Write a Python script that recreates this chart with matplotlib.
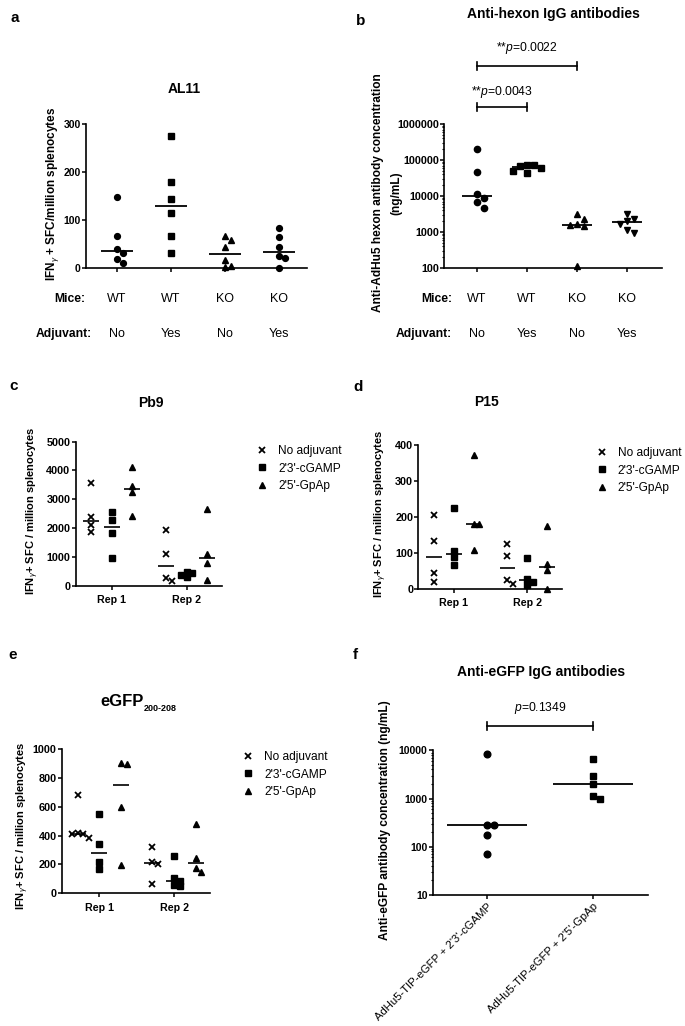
import numpy as np
import matplotlib
matplotlib.use("Agg")
import matplotlib.pyplot as plt
from matplotlib.lines import Line2D
from matplotlib.ticker import LogLocator, NullFormatter
from matplotlib.transforms import blended_transform_factory as blend

# ---------------- data ----------------
a_title = "AL11"
a_mice = ["WT", "WT", "KO", "KO"]
a_adjuvant = ["No", "Yes", "No", "Yes"]
a_wt_no = [148, 67, 40, 31, 19, 11]
a_wt_yes = [276, 180, 144, 115, 67, 31]
a_ko_no = [67, 59, 44, 16, 5, 2]
a_ko_yes = [84, 64, 44, 24, 20, 0]
a_yticks = [0, 100, 200, 300]

b_title = "Anti-hexon IgG antibodies"
b_mice = ["WT", "WT", "KO", "KO"]
b_adjuvant = ["No", "Yes", "No", "Yes"]
b_wt_no = [202000, 47000, 11400, 9000, 6800, 4700]
b_wt_yes = [72600, 71100, 68100, 58700, 50600, 42600]
b_ko_no = [3100, 2300, 1630, 1530, 1470, 114]
b_ko_yes = [3160, 2300, 2070, 1630, 1110, 920]
b_yticks = [100, 1000, 10000, 100000, 1000000]
b_comparisons = [(1, 2), (1, 3)]
b_pvalues = ["0.0043", "0.0022"]
b_ylabel = ["Anti-AdHu5 hexon antibody concentration", "(ng/mL)"]

reps = ["Rep 1", "Rep 2"]
legend_labels = ["No adjuvant", "2'3'-cGAMP", "2'5'-GpAp"]

c_title = "Pb9"
c_no_adj = [[3570, 2390, 2100, 1850], [1930, 1090, 245, 160]]
c_cgamp = [[2550, 2270, 1830, 965], [480, 420, 350, 280]]
c_gpap = [[4130, 3460, 3260, 2430], [2645, 1090, 790, 190]]
c_yticks = [0, 1000, 2000, 3000, 4000, 5000]

d_title = "P15"
d_no_adj = [[204, 133, 45, 20], [125, 91, 23, 13]]
d_cgamp = [[225, 106, 89, 65], [86, 28, 18, 9]]
d_gpap = [[371, 179, 179, 108], [175, 69, 52, 0]]
d_yticks = [0, 100, 200, 300, 400]

e_title = "eGFP"
e_title_sub = "200-208"
e_no_adj = [[680, 415, 412, 410, 380], [322, 215, 200, 63]]
e_cgamp = [[550, 340, 215, 165], [258, 107, 85, 53, 49]]
e_gpap = [[898, 907, 601, 193], [478, 244, 174, 144]]
e_yticks = [0, 200, 400, 600, 800, 1000]

f_title = "Anti-eGFP IgG antibodies"
f_groups = ["AdHu5-TIP-eGFP + 2'3'-cGAMP", "AdHu5-TIP-eGFP + 2'5'-GpAp"]
f_cgamp = [8260, 285, 280, 178, 71]
f_gpap = [6500, 2940, 2000, 1130, 965]
f_yticks = [10, 100, 1000, 10000]
f_pvalue = "0.1349"

# ---------------- style ----------------
plt.rcParams.update({
    "font.family": ["Liberation Sans", "DejaVu Sans"],
    "mathtext.fontset": "custom",
    "mathtext.rm": "Liberation Sans",
    "mathtext.it": "Liberation Sans:italic",
    "mathtext.bf": "Liberation Sans:bold",
    "axes.linewidth": 1.2,
})

W, H = 685, 1026
fig = plt.figure(figsize=(W / 100, H / 100), dpi=100)
fig.patch.set_facecolor("white")


def fx(px):
    return px / W


def fy(py):
    return 1 - py / H


def add_ax(l, t, r, b):
    ax = fig.add_axes([fx(l), fy(b), (r - l) / W, (b - t) / H])
    ax.patch.set_alpha(0)
    for s in ["top", "right"]:
        ax.spines[s].set_visible(False)
    ax.tick_params(direction="out", length=2.9, width=1.1, pad=0.8)
    return ax


def set_yticks(ax, ticks, size):
    ax.set_yticks(ticks)
    ax.set_yticklabels([f"{t:d}" for t in ticks], fontweight="bold", fontsize=size)


def swarm(ax, xc, vals, d):
    vals = np.asarray(vals, float)
    disp = ax.transData.transform(np.column_stack([np.full(len(vals), xc), vals]))
    p0 = ax.transData.transform((xc, vals[0]))
    p1 = ax.transData.transform((xc + 1, vals[0]))
    ppu = p1[0] - p0[0]
    cands = [0.0]
    for m in range(1, 12):
        cands += [m * d, -m * d]
    placed = []
    offs = np.zeros(len(vals))
    for i in np.argsort(-vals, kind="stable"):
        y = disp[i, 1]
        for c in cands:
            if all((c - px) ** 2 + (y - py) ** 2 >= (0.92 * d) ** 2 for px, py in placed):
                break
        placed.append((c, y))
        offs[i] = c
    return xc + offs / ppu


def bracket(ax, x1, x2, ypx, text, text_base):
    tr = blend(ax.transData, fig.transFigure)
    y = fy(ypx)
    cap = 4 / H
    kw = dict(transform=tr, color="k", lw=1.2, clip_on=False)
    ax.plot([x1, x2], [y, y], **kw)
    ax.plot([x1, x1], [y - cap, y + cap], **kw)
    ax.plot([x2, x2], [y - cap, y + cap], **kw)
    ax.text((x1 + x2) / 2, fy(text_base), text, transform=tr, ha="center",
            va="baseline", fontsize=8.7)


def panel_label(txt, x, ybase):
    fig.text(fx(x), fy(ybase), txt, ha="center", va="baseline", fontsize=11, fontweight="bold")


# ---------------- panel a ----------------
axA = add_ax(86, 124, 307, 268)
axA.set_xlim(0.426, 4.52)
axA.set_ylim(0, 300)
set_yticks(axA, a_yticks, 7.5)
axA.set_xticks(range(1, 5))
axA.set_xticklabels([])
for i, (v, m, s) in enumerate(zip([a_wt_no, a_wt_yes, a_ko_no, a_ko_yes],
                                  ["o", "s", "^", "o"], [4.2, 4.0, 4.6, 4.2])):
    xs = swarm(axA, i + 1, v, 6.0)
    axA.plot(xs, v, ls="none", marker=m, ms=s, color="k", clip_on=False, zorder=3)
    axA.hlines(np.median(v), i + 1 - 0.3, i + 1 + 0.3, color="k", lw=1.3, zorder=2)
trA = blend(axA.transData, fig.transFigure)
for i, (m, adj) in enumerate(zip(a_mice, a_adjuvant)):
    axA.text(i + 1, fy(302.5), m, transform=trA, ha="center", va="baseline", fontsize=9)
    axA.text(i + 1, fy(337), adj, transform=trA, ha="center", va="baseline", fontsize=9)
fig.text(fx(85.5), fy(302.5), "Mice:", ha="right", va="baseline", fontsize=8.7, fontweight="bold")
fig.text(fx(91.5), fy(337), "Adjuvant:", ha="right", va="baseline", fontsize=8.7, fontweight="bold")
fig.text(fx(184), fy(93), a_title, ha="center", va="baseline", fontsize=10, fontweight="bold")
fig.text(fx(53), fy(193.5), r"IFN$_{\gamma}$ + SFC/million splenocytes", rotation=90,
         ha="center", va="center", fontsize=8.5, fontweight="bold")
panel_label("a", 15, 21.7)

# ---------------- panel b ----------------
axB = add_ax(444, 124, 662, 268)
axB.set_yscale("log")
axB.set_xlim(0.34, 4.7)
axB.set_ylim(100, 1000000)
set_yticks(axB, b_yticks, 7.8)
axB.yaxis.set_minor_locator(LogLocator(base=10, subs=np.arange(2, 10)))
axB.yaxis.set_minor_formatter(NullFormatter())
axB.tick_params(which="minor", length=1.6, width=0.8)
axB.set_xticks(range(1, 5))
axB.set_xticklabels([])
for i, (v, m, s) in enumerate(zip([b_wt_no, b_wt_yes, b_ko_no, b_ko_yes],
                                  ["o", "s", "^", "v"], [4.5, 4.4, 4.8, 4.8])):
    xs = swarm(axB, i + 1, v, 7.0)
    axB.plot(xs, v, ls="none", marker=m, ms=s, color="k", clip_on=False, zorder=3)
    axB.hlines(np.median(v), i + 1 - 0.3, i + 1 + 0.3, color="k", lw=1.3, zorder=2)
trB = blend(axB.transData, fig.transFigure)
for i, (m, adj) in enumerate(zip(b_mice, b_adjuvant)):
    axB.text(i + 1, fy(301.7), m, transform=trB, ha="center", va="baseline", fontsize=9)
    axB.text(i + 1, fy(337), adj, transform=trB, ha="center", va="baseline", fontsize=9)
fig.text(fx(452), fy(301.7), "Mice:", ha="right", va="baseline", fontsize=8.7, fontweight="bold")
fig.text(fx(452), fy(337), "Adjuvant:", ha="right", va="baseline", fontsize=8.7, fontweight="bold")
for (i, j), p, yb, yt in zip(b_comparisons, b_pvalues, [107, 66], [95, 50.7]):
    bracket(axB, i, j, yb, r"**$\mathit{p}$=" + p, yt)
fig.text(fx(553), fy(18), b_title, ha="center", va="baseline", fontsize=10, fontweight="bold")
fig.text(fx(378), fy(193), b_ylabel[0], rotation=90,
         ha="center", va="center", fontsize=8.6, fontweight="bold")
fig.text(fx(396), fy(193), b_ylabel[1], rotation=90,
         ha="center", va="center", fontsize=8.6, fontweight="bold")
panel_label("b", 361, 25)


# ---------------- panels c, d, e ----------------
def rep_panel(box, xlim, series, ylim, yticks, offs, leg_left, leg_top):
    ax = add_ax(*box)
    ax.set_xlim(*xlim)
    ax.set_ylim(*ylim)
    set_yticks(ax, yticks, 7.8)
    markers = ["x", "s", "^"]
    sizes = [5.0, 3.9, 4.5]
    mews = [1.3, 1.0, 1.0]
    for g, (vals_by_rep, m, s, mw) in enumerate(zip(series, markers, sizes, mews)):
        for r, vals in enumerate(vals_by_rep):
            xc = r + 1 + (g - 1) * offs
            xs = swarm(ax, xc, vals, 5.5)
            ax.plot(xs, vals, ls="none", marker=m, ms=s, mew=mw, color="k",
                    clip_on=False, zorder=3)
            ax.hlines(np.median(vals), xc - 0.107, xc + 0.107, color="k", lw=1.2, zorder=2)
    ax.set_xticks([1, 2])
    ax.set_xticklabels(reps, fontweight="bold", fontsize=7.7)
    ax.tick_params(axis="x", pad=4)
    handles = [Line2D([], [], ls="none", marker=m, ms=s, mew=mw, color="k")
               for m, s, mw in zip(markers, sizes, mews)]
    ax.legend(handles, legend_labels, loc="upper left",
              bbox_to_anchor=(fx(leg_left), fy(leg_top)), bbox_transform=fig.transFigure,
              frameon=False, borderpad=0, borderaxespad=0, handlelength=1.0,
              handletextpad=0.85, labelspacing=0.47, fontsize=8.6)
    return ax


ylab_rep = r"IFN$_{\gamma}$+ SFC / million splenocytes"

axC = rep_panel((75.5, 441.7, 222, 585.5), (0.52, 2.47), [c_no_adj, c_cgamp, c_gpap],
                (0, 5000), c_yticks, 0.27, 256, 445)
fig.text(fx(151), fy(406.7), c_title, ha="center", va="baseline", fontsize=10, fontweight="bold")
fig.text(fx(33), fy(510.5), ylab_rep, rotation=90, ha="center", va="center",
         fontsize=8, fontweight="bold")
panel_label("c", 13.5, 390)

axD = rep_panel((418.3, 445, 562, 588.7), (0.52, 2.47), [d_no_adj, d_cgamp, d_gpap],
                (0, 400), d_yticks, 0.27, 595.8, 447)
fig.text(fx(486.5), fy(405.7), d_title, ha="center", va="baseline", fontsize=10, fontweight="bold")
fig.text(fx(381), fy(513.7), ylab_rep, rotation=90, ha="center", va="center",
         fontsize=8, fontweight="bold")
panel_label("d", 358, 390.7)

axE = rep_panel((61.7, 749.3, 210, 893), (0.497, 2.48), [e_no_adj, e_cgamp, e_gpap],
                (0, 1000), e_yticks, 0.29, 242, 751)
te = fig.text(fx(100), fy(705.7), e_title, ha="left", va="baseline", fontsize=12, fontweight="bold")
fig.canvas.draw()
bb = te.get_window_extent()
fig.text(bb.x1 / W, fy(711), e_title_sub, ha="left", va="baseline", fontsize=6.5,
         fontweight="bold")
fig.text(fx(22.5), fy(826), ylab_rep, rotation=90, ha="center", va="center",
         fontsize=8, fontweight="bold")
panel_label("e", 13, 659.3)

# ---------------- panel f ----------------
axF = add_ax(432.7, 750.3, 648, 895)
axF.set_yscale("log")
axF.set_xlim(0.492, 2.517)
axF.set_ylim(10, 10000)
set_yticks(axF, f_yticks, 7.5)
axF.yaxis.set_minor_locator(LogLocator(base=10, subs=np.arange(2, 10)))
axF.yaxis.set_minor_formatter(NullFormatter())
axF.tick_params(which="minor", length=1.6, width=0.8)
for i, (v, m) in enumerate(zip([f_cgamp, f_gpap], ["o", "s"])):
    xs = swarm(axF, i + 1, v, 7.0)
    axF.plot(xs, v, ls="none", marker=m, ms=4.8, color="k", clip_on=False, zorder=3)
    axF.hlines(np.median(v), i + 1 - 0.375, i + 1 + 0.375, color="k", lw=1.3, zorder=2)
axF.set_xticks([1, 2])
axF.set_xticklabels(f_groups, rotation=45, ha="right", rotation_mode="anchor", fontsize=8.1)
axF.tick_params(axis="x", pad=1.5)
bracket(axF, 1, 2, 726, r"$\mathit{p}$=" + f_pvalue, 710.7)
fig.text(fx(541), fy(676), f_title, ha="center", va="baseline", fontsize=10, fontweight="bold")
fig.text(fx(385), fy(820), "Anti-eGFP antibody concentration (ng/mL)", rotation=90,
         ha="center", va="center", fontsize=8.6, fontweight="bold")
panel_label("f", 355, 659.3)

fig.savefig("out.png", dpi=100, facecolor="white")
